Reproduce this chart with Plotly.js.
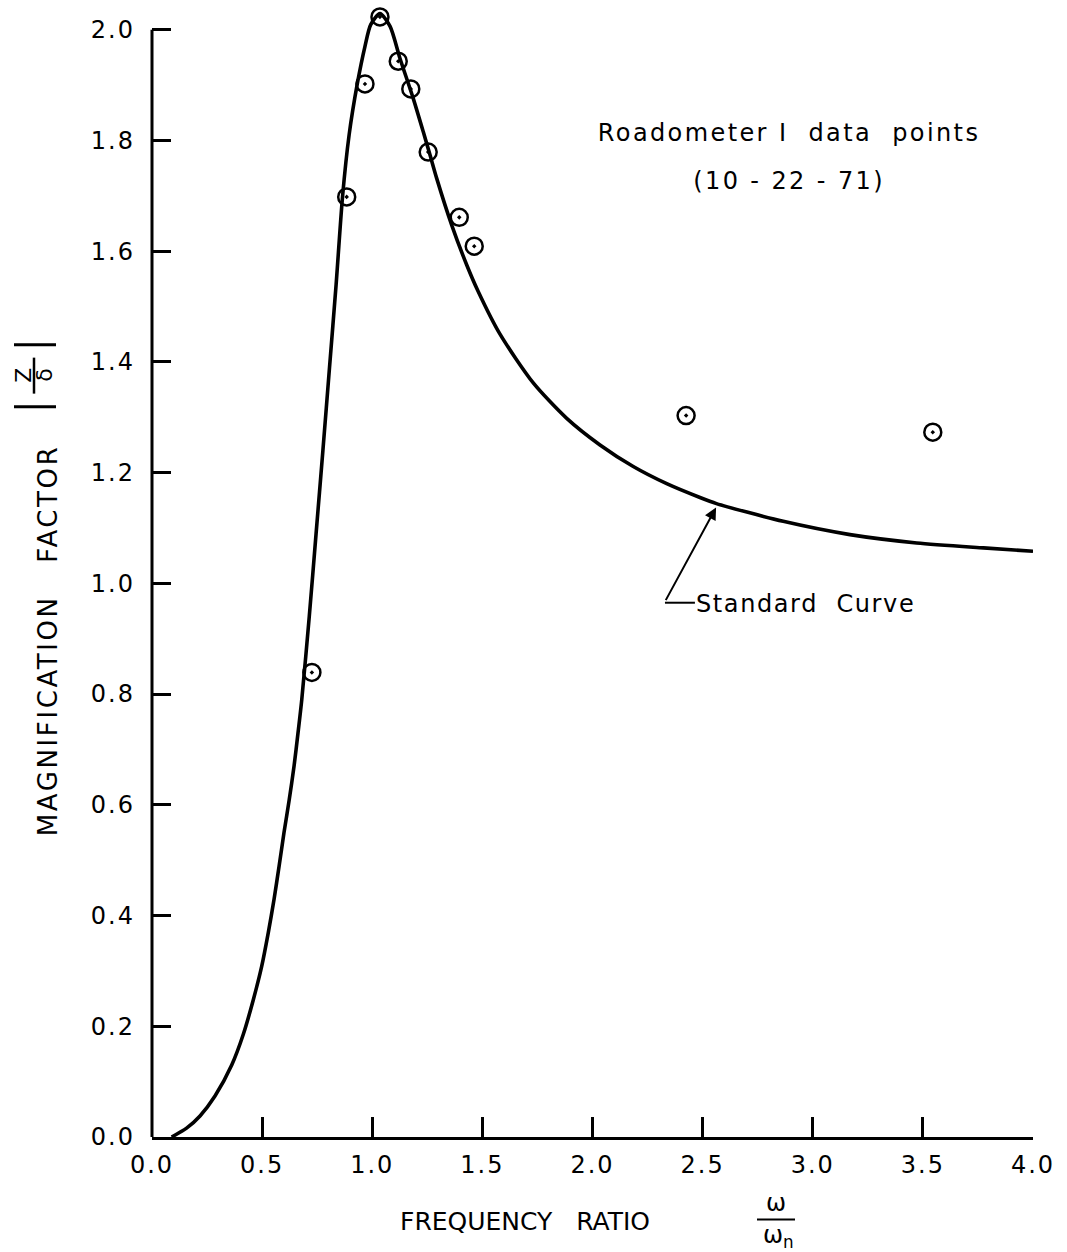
<!DOCTYPE html>
<html>
<head>
<meta charset="utf-8">
<script src="https://cdn.plot.ly/plotly-3.0.1.min.js"></script>
<style>
html,body{margin:0;padding:0;background:#fff;}
#chart{width:1067px;height:1252px;}
.xtick text,.ytick text{letter-spacing:2px;}
</style>
</head>
<body>
<div id="chart"></div>
<script>
// Standard curve
const curveX = [0.089, 0.157, 0.218, 0.286, 0.362, 0.415, 0.460, 0.498, 0.528, 0.554, 0.577, 0.599, 0.623, 0.645, 0.663, 0.680, 0.714, 0.745, 0.776, 0.806, 0.836, 0.865, 0.895, 0.932, 0.967, 0.993, 1.035, 1.081, 1.126, 1.186, 1.232, 1.262, 1.293, 1.360, 1.429, 1.480, 1.580, 1.731, 1.883, 2.034, 2.185, 2.337, 2.488, 2.563, 2.866, 3.169, 3.472, 3.775, 4.0];
const curveY = [0.000, 0.016, 0.038, 0.074, 0.130, 0.186, 0.248, 0.308, 0.369, 0.429, 0.489, 0.549, 0.609, 0.670, 0.730, 0.790, 0.940, 1.090, 1.240, 1.390, 1.540, 1.698, 1.810, 1.902, 1.970, 2.009, 2.029, 2.006, 1.948, 1.876, 1.815, 1.774, 1.731, 1.648, 1.575, 1.528, 1.450, 1.362, 1.298, 1.250, 1.211, 1.180, 1.155, 1.144, 1.112, 1.088, 1.073, 1.064, 1.058];

// Roadometer I data points (10-22-71)
const pointX = [0.726, 0.884, 0.967, 1.035, 1.118, 1.175, 1.254, 1.395, 1.463, 2.425, 3.545];
const pointY = [0.839, 1.698, 1.902, 2.023, 1.943, 1.893, 1.779, 1.661, 1.609, 1.303, 1.273];

// Tick values / labels
const xTicks = [0, 0.5, 1.0, 1.5, 2.0, 2.5, 3.0, 3.5, 4.0];
const xTickText = ['0.0', '0.5', '1.0', '1.5', '2.0', '2.5', '3.0', '3.5', '4.0'];
const yTicks = [0, 0.2, 0.4, 0.6, 0.8, 1.0, 1.2, 1.4, 1.6, 1.8, 2.0];
const yTickText = ['0.0', '0.2', '0.4', '0.6', '0.8', '1.0', '1.2', '1.4', '1.6', '1.8', '2.0'];

const FONT = 'DejaVu Sans, Liberation Sans, sans-serif';
const NB = '\u00A0';
// pixel -> paper helpers for the labels outside the plotting area
const PX = p => (p - 152) / 881;
const PY = p => (1137.5 - p) / 1135.2;

const traces = [
  {
    x: curveX, y: curveY, type: 'scatter', mode: 'lines',
    line: {color: '#000', width: 3.6, shape: 'spline', smoothing: 0.7},
    hoverinfo: 'skip', showlegend: false
  },
  {
    x: pointX, y: pointY, type: 'scatter', mode: 'markers',
    marker: {symbol: 'circle-open-dot', size: 17, color: '#000', line: {color: '#000', width: 2.5}},
    cliponaxis: false, showlegend: false
  }
];

function ann(x, y, text, size, extra) {
  return Object.assign({x: PX(x), y: PY(y), xref: 'paper', yref: 'paper', xanchor: 'center', yanchor: 'middle',
    showarrow: false, text: text, font: {family: FONT, size: size, color: '#000'}}, extra || {});
}

const TITLE_Y = 'MAGNIFICATION' + NB + NB + NB + 'FACTOR';
const NOTE1 = 'Roadometer I' + NB + NB + 'data' + NB + NB + 'points';
const NOTE2 = '(10 - 22 - 71)';
const NOTE3 = 'Standard' + NB + NB + 'Curve';

const layout = {
  width: 1067, height: 1252,
  margin: {l: 152, r: 34, t: 2.3, b: 114.5},
  paper_bgcolor: '#fff', plot_bgcolor: '#fff',
  font: {family: FONT, color: '#000', size: 24},
  showlegend: false,
  xaxis: {
    range: [0, 4], tickvals: xTicks, ticktext: xTickText,
    showgrid: false, zeroline: false,
    showline: true, linecolor: '#000', linewidth: 3,
    ticks: 'inside', ticklen: 20, tickwidth: 3, tickcolor: '#000',
    ticklabelstandoff: 4,
    tickfont: {family: FONT, size: 24, color: '#000'}
  },
  yaxis: {
    range: [0, 2.05], tickvals: yTicks, ticktext: yTickText,
    showgrid: false, zeroline: false, showline: false,
    ticks: 'inside', ticklen: 19, tickwidth: 3, tickcolor: '#000',
    ticklabelstandoff: 16,
    tickfont: {family: FONT, size: 24, color: '#000'}
  },
  shapes: [
    // y axis line (stops at 2.0)
    {type: 'line', xref: 'paper', yref: 'y', x0: 0, x1: 0, y0: 0, y1: 2.0, line: {color: '#000', width: 3}},
    // leader for "Standard Curve"
    {type: 'line', xref: 'x', yref: 'y', x0: 2.329, x1: 2.465, y0: 0.965, y1: 0.965, line: {color: '#000', width: 2}},
    // fraction bar omega / omega_n
    {type: 'line', xref: 'paper', yref: 'paper', x0: PX(757), x1: PX(795), y0: PY(1220), y1: PY(1220), line: {color: '#000', width: 2}},
    // |Z/delta| (rotated): abs bars and fraction bar
    {type: 'line', xref: 'paper', yref: 'paper', x0: PX(14), x1: PX(56), y0: PY(345), y1: PY(345), line: {color: '#000', width: 3}},
    {type: 'line', xref: 'paper', yref: 'paper', x0: PX(14), x1: PX(56), y0: PY(407), y1: PY(407), line: {color: '#000', width: 3}},
    {type: 'line', xref: 'paper', yref: 'paper', x0: PX(34), x1: PX(34), y0: PY(358), y1: PY(394), line: {color: '#000', width: 2.5}}
  ],
  annotations: [
    {x: 2.892, y: 1.814, xref: 'x', yref: 'y', xanchor: 'center', yanchor: 'middle', showarrow: false,
     text: NOTE1, font: {family: FONT, size: 24}},
    {x: 2.892, y: 1.727, xref: 'x', yref: 'y', xanchor: 'center', yanchor: 'middle', showarrow: false,
     text: NOTE2, font: {family: FONT, size: 24}},
    {x: 2.969, y: 0.962, xref: 'x', yref: 'y', xanchor: 'center', yanchor: 'middle', showarrow: false,
     text: NOTE3, font: {family: FONT, size: 24}},
    {x: 2.561, y: 1.137, xref: 'x', yref: 'y', ax: 2.329, ay: 0.967, axref: 'x', ayref: 'y',
     text: '', showarrow: true, arrowhead: 2, arrowsize: 1.2, arrowwidth: 2, arrowcolor: '#000'},
    // x title
    ann(525, 1222, 'FREQUENCY' + NB + NB + NB + 'RATIO', 25),
    ann(776, 1204, 'ω', 24),
    ann(778, 1237, 'ω<sub>n</sub>', 24),
    // y title
    ann(48, 641, TITLE_Y, 26, {textangle: -90}),
    ann(24, 376, 'Z', 22, {textangle: -90}),
    ann(45, 376, 'δ', 22, {textangle: -90})
  ]
};

Plotly.newPlot('chart', traces, layout, {displayModeBar: false, staticPlot: true}).then(() => {
  const spacing = {};
  spacing[TITLE_Y] = '2.6px';
  spacing[NOTE1] = '2.4px';
  spacing[NOTE2] = '2.4px';
  spacing[NOTE3] = '1.6px';
  document.querySelectorAll('#chart .annotation-text').forEach(el => {
    const s = spacing[el.textContent];
    if (s) el.style.letterSpacing = s;
  });
});
</script>
</body>
</html>
